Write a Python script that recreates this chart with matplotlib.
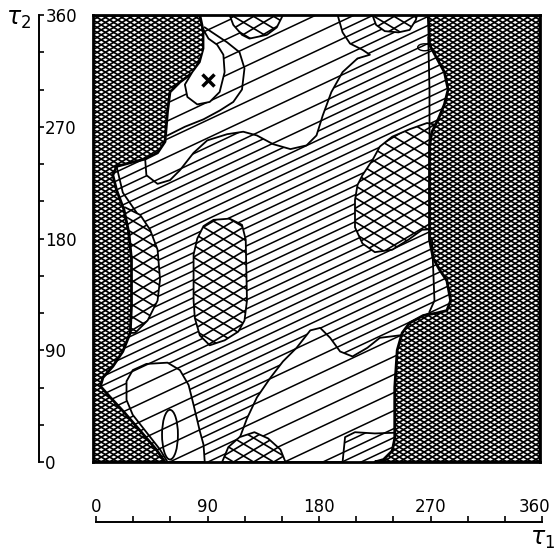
import matplotlib
matplotlib.use("Agg")
from matplotlib import pyplot as plt
from matplotlib import transforms
from matplotlib.patches import Polygon, Ellipse
from matplotlib.collections import LineCollection

# region outlines as (tau1, tau2) in degrees
left_dense = [(0, 360), (86, 360), (89, 346), (89, 330), (81, 314), (70, 306), (62, 298),
              (60, 282), (58, 258), (52, 249), (42, 244), (30, 241), (19, 238), (16, 231),
              (19, 219), (25, 203), (29, 184), (31, 163), (31, 126), (30, 104), (24, 89),
              (16, 77), (8, 68), (6, 61), (14, 52), (26, 39), (39, 24), (51, 10), (58, 0), (0, 0)]
right_dense = [(270, 360), (271, 336), (277, 325), (283, 314), (286, 300), (283, 288),
               (278, 276), (273, 266), (271, 255), (271, 179), (274, 164), (279, 155),
               (285, 146), (288, 130), (285, 122), (277, 120), (266, 118), (255, 112),
               (249, 104), (245, 90), (243, 60), (243, 19), (241, 9), (234, 2), (227, 0),
               (360, 0), (360, 360)]

# coarse diagonal regions
top_coarse = [(42, 244), (43, 231), (52, 224), (62, 227), (70, 235), (81, 249), (92, 259),
              (108, 264), (121, 266), (132, 263), (145, 256), (159, 252), (172, 255),
              (180, 263), (185, 279), (192, 298), (201, 314), (213, 325), (223, 328),
              (217, 332), (207, 337), (201, 346), (197, 360), (6, 360), (6, 244)]
lobe_coarse = [(90, 0), (89, 14), (86, 25), (81, 46), (77, 62), (70, 74), (60, 80), (43, 79),
               (32, 74), (27, 65), (27, 50), (32, 38), (43, 24), (54, 10), (60, 0)]
bottom_coarse = [(118, 0), (118, 19), (124, 35), (132, 52), (143, 68), (153, 81), (164, 92),
                 (175, 106), (183, 108), (191, 100), (199, 89), (209, 85), (221, 92),
                 (231, 100), (255, 103), (255, 24), (227, 23), (211, 24), (203, 20), (201, 0)]

# coarse cross-hatched islands
left_island = [(26, 205), (38, 199), (46, 187), (52, 171), (54, 147), (52, 130), (44, 114),
               (34, 104), (24, 104), (24, 205)]
centre_island = [(81, 130), (81, 167), (84, 180), (89, 190), (97, 195), (110, 196), (120, 191),
                 (123, 179), (124, 130), (122, 114), (117, 105), (106, 98), (94, 94), (86, 102),
                 (82, 116)]
right_island = [(225, 243), (231, 254), (241, 262), (255, 268), (269, 273), (279, 271),
                (279, 188), (265, 187), (254, 179), (241, 171), (227, 169), (217, 176),
                (211, 189), (211, 211), (213, 223), (217, 231)]
top_blob_a = [(110, 360), (113, 352), (120, 344), (126, 341), (140, 344), (148, 350), (153, 360)]
top_blob_b = [(225, 360), (228, 352), (235, 347), (246, 346), (255, 348), (260, 356), (261, 360)]
bottom_blob = [(104, 0), (109, 12), (118, 20), (130, 24), (141, 19), (151, 10), (155, 0)]

# white drop round the minimum, and the minimum itself
drop = [(89, 348), (93, 341), (100, 336), (105, 328), (106, 314), (102, 298), (94, 290),
        (84, 288), (76, 294), (74, 304), (80, 314), (86, 322), (89, 333)]
minimum = (93, 308)

# contour lines without a change of shading
drop_ring = [(90, 350), (108, 338), (118, 330), (122, 317), (120, 300), (113, 290),
             (102, 283), (89, 276), (74, 270), (60, 263)]
island_tail = [(19, 238), (24, 217), (35, 201)]
crescent_a = [(270, 342), (271, 300), (271, 256)]
crescent_b = [(273, 179), (274, 155), (275, 130), (271, 121)]

ticks = [0, 90, 180, 270, 360]

FINE = 7.25      # vertical spacing of the diagonal shading, degrees
SLOPE = 0.47


def hatch_lines(slope, step, phase=0.0):
    lo = min(0, -360 * slope) - step
    hi = max(360, 360 - 360 * slope) + step
    segs = []
    c = phase + step * int((lo - phase) // step)
    while c <= hi:
        segs.append([(-5, c - 5 * slope), (365, c + 365 * slope)])
        c += step
    return segs


def region(ax, verts, families, z, lw_hatch=1.1, lw_edge=1.3):
    face = Polygon(verts, closed=True, facecolor="white", edgecolor="none", zorder=z)
    ax.add_patch(face)
    for slope, step in families:
        lc = LineCollection(hatch_lines(slope, step), colors="black",
                            linewidths=lw_hatch, zorder=z + 0.1)
        lc.set_clip_path(face)
        ax.add_collection(lc)
    ax.add_patch(Polygon(verts, closed=True, fill=False, edgecolor="black",
                         lw=lw_edge, zorder=z + 0.2, joinstyle="round"))


fig = plt.figure(figsize=(5.55, 5.54), dpi=100)
ax = fig.add_axes([93 / 555, 92 / 554, 447 / 555, 447 / 554])

fine = [(SLOPE, FINE)]
coarse = [(SLOPE, 2 * FINE)]
cross = [(0.6, 9.7), (-0.6, 9.7)]
dense = [(0.6, 4.0), (-0.6, 4.0)]

box = [(0, 0), (360, 0), (360, 360), (0, 360)]
region(ax, box, fine, 1, lw_edge=0)

for verts in (top_coarse, lobe_coarse, bottom_coarse):
    region(ax, verts, coarse, 2)
for verts in (left_island, centre_island, right_island, top_blob_a, top_blob_b, bottom_blob):
    region(ax, verts, cross, 3, lw_hatch=1.2)
for verts in (left_dense, right_dense):
    region(ax, verts, dense, 4, lw_hatch=1.25, lw_edge=2.0)

region(ax, drop, [], 5)
ax.plot(*minimum, marker="x", color="black", ms=8, mew=2.5, zorder=7)

for line in (drop_ring, island_tail, crescent_a, crescent_b):
    ax.plot([p[0] for p in line], [p[1] for p in line], color="black", lw=1.3, zorder=6)
ax.add_patch(Ellipse((62, 22), 12.8, 40, fill=False, lw=1.3, zorder=6))
ax.add_patch(Ellipse((267, 334), 11, 5.6, fill=False, lw=1.0, zorder=6))

ax.set_xlim(0, 360)
ax.set_ylim(0, 360)
ax.set_xticks([])
ax.set_yticks([])
for sp in ax.spines.values():
    sp.set_linewidth(2.0)
    sp.set_zorder(20)

# tau2 scale on the left
axl = fig.add_axes([0, 92 / 554, 39 / 555, 447 / 554])
axl.set_ylim(0, 360)
for side in ("left", "top", "bottom"):
    axl.spines[side].set_visible(False)
axl.spines["right"].set_linewidth(1.4)
axl.set_xticks([])
axl.yaxis.set_ticks_position("right")
axl.set_yticks(ticks)
axl.set_yticks(range(0, 361, 30), minor=True)
axl.tick_params(axis="y", which="both", direction="out", length=3.5, width=1.2,
                labelsize=12, pad=1)
axl.patch.set_visible(False)

# tau1 scale below
axb = fig.add_axes([96 / 555, 32 / 554 - 0.002, 446 / 555, 0.002])
axb.set_xlim(0, 360)
for side in ("left", "right", "bottom"):
    axb.spines[side].set_visible(False)
axb.spines["top"].set_linewidth(1.4)
axb.set_yticks([])
axb.xaxis.set_ticks_position("top")
axb.set_xticks(ticks)
axb.set_xticks(range(0, 361, 30), minor=True)
axb.tick_params(axis="x", which="both", direction="out", length=4.5, width=1.2,
                labelsize=12, pad=0)
axb.patch.set_visible(False)
last = axb.get_xticklabels()[-1]
last.set_transform(last.get_transform() + transforms.ScaledTranslation(-0.08, 0, fig.dpi_scale_trans))

fig.text(6 / 555, 1 - 19 / 554, r"$\tau_2$", fontsize=17, va="center", ha="left")
fig.text(530 / 555, 1 - 539 / 554, r"$\tau_1$", fontsize=17, va="center", ha="left")

fig.savefig("out.png", dpi=100)
